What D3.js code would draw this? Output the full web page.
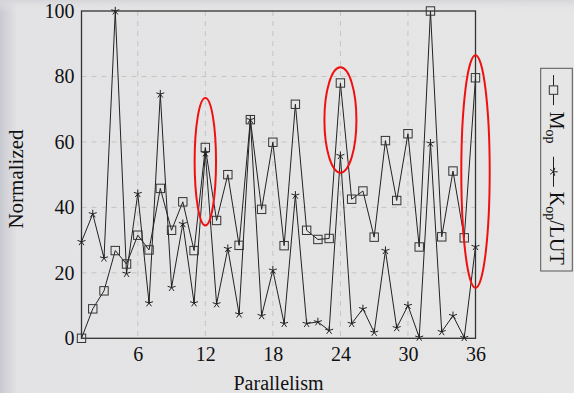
<!DOCTYPE html>
<html>
<head>
<meta charset="utf-8">
<script src="https://cdn.jsdelivr.net/npm/d3@7"></script>
<style>
  body { margin: 0; background: #e5e5e5; }
  svg { display: block; }
</style>
</head>
<body>
<div id="chart"></div>
<script>
// data
const parallelism = d3.range(1, 37);
const mOp = [0, 9, 14.5, 26.8, 22.7, 31.5, 27, 45.8, 33, 41.7, 26.8, 58.3, 36, 50, 28.4, 66.8, 39.4, 59.9, 28.3, 71.5,
  33, 30.2, 30.5, 78, 42.5, 45, 30.9, 60.4, 42.1, 62.5, 27.9, 100, 31, 51.1, 30.7, 79.6];
const kOpLut = [29.5, 38, 24.5, 100, 19.8, 44.2, 10.8, 74.6, 15.5, 35, 10.8, 56.6, 10.5, 27.4, 7.4, 66.8, 6.9, 20.8, 4.5, 43.7,
  4.5, 5, 2.4, 55.8, 4.5, 9, 1.8, 26.8, 3.2, 10, 0.3, 59.6, 2, 6.9, 0.2, 28];
const xTicks = [6, 12, 18, 24, 30, 36];
const yTicks = [0, 20, 40, 60, 80, 100];
// highlighted points (x, value range covered)
const highlights = [
  {x: 12, lo: 34.5, hi: 73.4, rx: 10.7},
  {x: 24, lo: 50.6, hi: 82.8, rx: 16},
  {x: 36, lo: 15.4, hi: 86.5, rx: 14.2}
];

const width = 574, height = 393;
const mLeft = 81.5, mRight = 475.5, mTop = 11, mBottom = 338.3;
const font = "'Liberation Serif', 'DejaVu Serif', serif";

const svg = d3.select("#chart").append("svg")
  .attr("width", width)
  .attr("height", height);

// background with a slight shadow on the edges
const defs = svg.append("defs");
const lg = defs.append("linearGradient").attr("id", "edgeL");
lg.append("stop").attr("offset", "0%").attr("stop-color", "#c9c9d1");
lg.append("stop").attr("offset", "3%").attr("stop-color", "#e3e3e5");
lg.append("stop").attr("offset", "100%").attr("stop-color", "#e6e6e6");
const tg = defs.append("linearGradient").attr("id", "edgeT")
  .attr("x1", 0).attr("y1", 0).attr("x2", 0).attr("y2", 1);
tg.append("stop").attr("offset", "0%").attr("stop-color", "#d6d6da").attr("stop-opacity", 1);
tg.append("stop").attr("offset", "3%").attr("stop-color", "#e6e6e6").attr("stop-opacity", 0);
svg.append("rect").attr("width", width).attr("height", height).attr("fill", "url(#edgeL)");
svg.append("rect").attr("width", width).attr("height", height).attr("fill", "url(#edgeT)");

const x = d3.scaleLinear().domain([1, 36]).range([mLeft, mRight]);
const y = d3.scaleLinear().domain([0, 100]).range([mBottom, mTop]);

// grid
const grid = svg.append("g")
  .attr("stroke", "#c4c4c4")
  .attr("stroke-width", 1)
  .attr("stroke-dasharray", "5,5");
grid.selectAll("line.vx")
  .data(xTicks.slice(0, -1))
  .enter().append("line")
  .attr("x1", d => x(d)).attr("x2", d => x(d))
  .attr("y1", mTop).attr("y2", mBottom);
grid.selectAll("line.hy")
  .data(yTicks.slice(1, -1))
  .enter().append("line")
  .attr("x1", mLeft).attr("x2", mRight)
  .attr("y1", d => y(d)).attr("y2", d => y(d));

// axes
svg.append("g")
  .attr("transform", "translate(0," + mBottom + ")")
  .call(d3.axisBottom(x).tickValues(xTicks).tickSize(0).tickPadding(9))
  .call(g => g.select(".domain").remove())
  .selectAll("text")
  .attr("font-family", font).attr("font-size", 20).attr("fill", "#111");

svg.append("g")
  .attr("transform", "translate(" + mLeft + ",0)")
  .call(d3.axisLeft(y).tickValues(yTicks).tickSize(0).tickPadding(7))
  .call(g => g.select(".domain").remove())
  .selectAll("text")
  .attr("font-family", font).attr("font-size", 20).attr("fill", "#111");

// frame
svg.append("rect")
  .attr("x", mLeft).attr("y", mTop)
  .attr("width", mRight - mLeft).attr("height", mBottom - mTop)
  .attr("fill", "none").attr("stroke", "#333").attr("stroke-width", 1.3);

// axis labels
svg.append("text")
  .attr("x", (mLeft + mRight) / 2).attr("y", 390)
  .attr("text-anchor", "middle")
  .attr("font-family", font).attr("font-size", 20).attr("fill", "#111")
  .text("Parallelism");
svg.append("text")
  .attr("transform", "translate(23," + 179 + ") rotate(-90)")
  .attr("text-anchor", "middle")
  .attr("font-family", font).attr("font-size", 21).attr("fill", "#111")
  .text("Normalized");

// lines
const line = d3.line().x((d, i) => x(parallelism[i])).y(d => y(d));
[mOp, kOpLut].forEach(s => {
  svg.append("path")
    .datum(s)
    .attr("d", line)
    .attr("fill", "none")
    .attr("stroke", "#222")
    .attr("stroke-width", 1);
});

// marks
const starPath = (r) => d3.range(5).map(k => {
  const a = -Math.PI / 2 + k * 2 * Math.PI / 5;
  return "M0,0L" + (r * Math.cos(a)).toFixed(2) + "," + (r * Math.sin(a)).toFixed(2);
}).join("");

svg.append("g").selectAll("rect")
  .data(mOp)
  .enter().append("rect")
  .attr("x", (d, i) => x(parallelism[i]) - 4.2)
  .attr("y", d => y(d) - 4.2)
  .attr("width", 8.4).attr("height", 8.4)
  .attr("fill", "none").attr("stroke", "#333").attr("stroke-width", 1);

svg.append("g").selectAll("path")
  .data(kOpLut)
  .enter().append("path")
  .attr("transform", (d, i) => "translate(" + x(parallelism[i]) + "," + y(d) + ")")
  .attr("d", starPath(4.2))
  .attr("fill", "none").attr("stroke", "#222").attr("stroke-width", 1);

// red ellipses
svg.append("g").selectAll("ellipse")
  .data(highlights)
  .enter().append("ellipse")
  .attr("cx", d => x(d.x))
  .attr("cy", d => (y(d.lo) + y(d.hi)) / 2)
  .attr("rx", d => d.rx)
  .attr("ry", d => (y(d.lo) - y(d.hi)) / 2)
  .attr("fill", "none").attr("stroke", "#f01010").attr("stroke-width", 2);

// legend (rotated)
const leg = svg.append("g").attr("transform", "translate(556.5,169.6) rotate(90)");
leg.append("rect")
  .attr("x", -101.3).attr("y", -15.8)
  .attr("width", 202.7).attr("height", 31.6)
  .attr("fill", "none").attr("stroke", "#555").attr("stroke-width", 1);
leg.append("line").attr("x1", -94.5).attr("x2", -64.5).attr("y1", 3).attr("y2", 3)
  .attr("stroke", "#222");
leg.append("rect").attr("x", -83.7).attr("y", -1.2).attr("width", 8.4).attr("height", 8.4)
  .attr("fill", "#e6e6e6").attr("stroke", "#333");
leg.append("line").attr("x1", -12.8).attr("x2", 17.2).attr("y1", 3).attr("y2", 3)
  .attr("stroke", "#222");
leg.append("path").attr("transform", "translate(2.2,3)").attr("d", starPath(4.2))
  .attr("fill", "none").attr("stroke", "#222");

const t1 = leg.append("text").attr("x", -57.8).attr("y", 7)
  .attr("font-family", font).attr("font-size", 20).attr("fill", "#111");
t1.append("tspan").text("M");
t1.append("tspan").attr("font-size", 14).attr("dy", 4).text("op");

const t2 = leg.append("text").attr("x", 22.2).attr("y", 7)
  .attr("font-family", font).attr("font-size", 20).attr("fill", "#111");
t2.append("tspan").text("K");
t2.append("tspan").attr("font-size", 14).attr("dy", 4).text("op");
t2.append("tspan").attr("dy", -4).text("/LUT");
</script>
</body>
</html>
